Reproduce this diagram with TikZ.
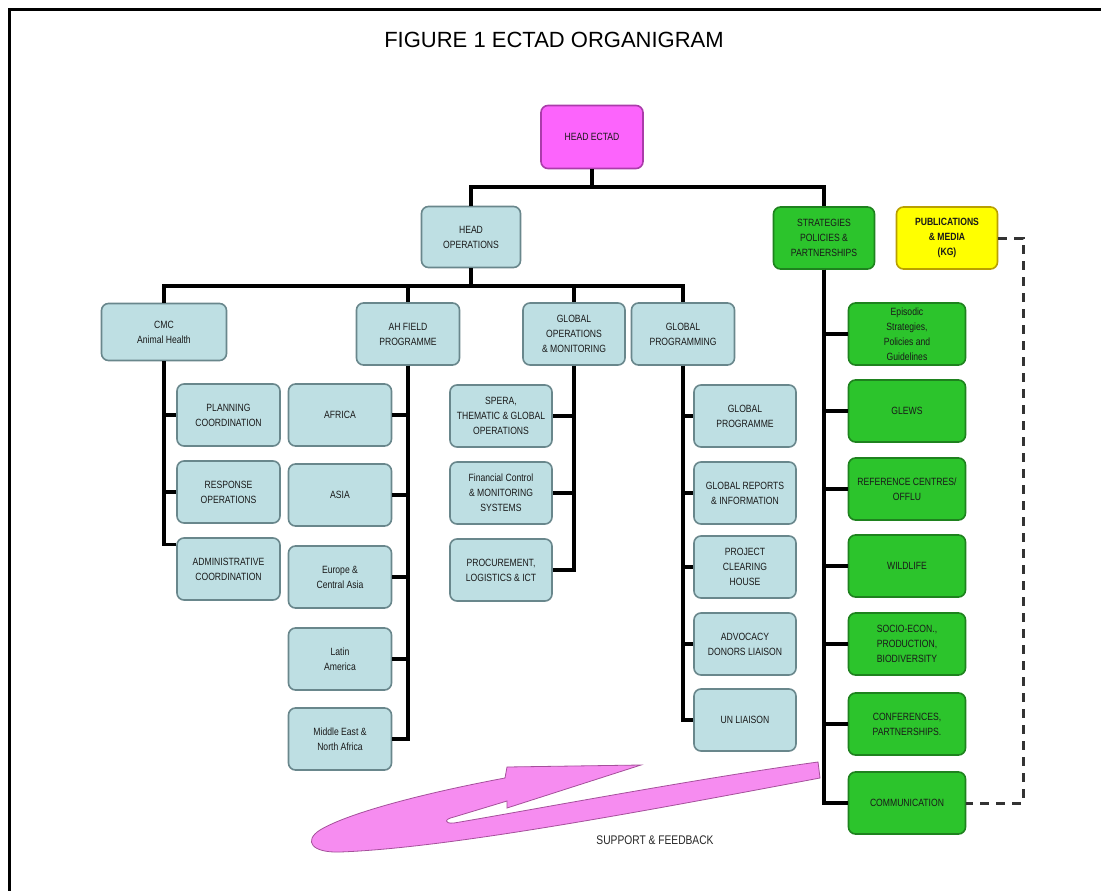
\documentclass[tikz,border=0pt]{standalone}
\usepackage{fontspec}
\setmainfont{Liberation Sans}
\newfontfamily\boxfont[FakeStretch=0.82]{Liberation Sans}
\usetikzlibrary{calc}
\definecolor{bluef}{RGB}{190,223,227}
\definecolor{blued}{RGB}{105,135,140}
\definecolor{greenf}{RGB}{44,196,44}
\definecolor{greend}{RGB}{30,130,30}
\definecolor{yellowf}{RGB}{255,255,0}
\definecolor{yellowd}{RGB}{185,160,0}
\definecolor{magf}{RGB}{252,100,252}
\definecolor{magd}{RGB}{170,60,170}
\definecolor{pinkf}{RGB}{246,140,240}
\definecolor{pinkd}{RGB}{165,80,155}
\tikzset{
  boxbase/.style={rounded corners=7, line width=1.6, minimum width=103, minimum height=62, inner sep=1pt, align=center, text=black!90, font=\boxfont\fontsize{10.5}{15}\selectfont},
  bluebox/.style={boxbase, draw=blued, fill=bluef},
  greenbox/.style={boxbase, draw=greend, fill=greenf, minimum width=117},
  conn/.style={line width=3.2, black},
  dashconn/.style={line width=3, black!80, dash pattern=on 9 off 7}
}
\begin{document}
\begin{tikzpicture}[x=1pt,y=-1pt]
\useasboundingbox (0,0) rectangle (1101,891);
\fill[white] (0,0) rectangle (1101,891);
\draw[line width=3] (1101,9.5) -- (9.5,9.5) -- (9.5,891);
\node[font=\fontsize{22}{24}\selectfont] (title) at (554,40) {FIGURE 1 ECTAD ORGANIGRAM};

% top level
\node[boxbase, draw=magd, fill=magf, minimum width=102, minimum height=63] (ectad) at (592,137) {HEAD ECTAD};
\node[bluebox, minimum width=99, minimum height=61] (hops) at (471,237) {HEAD\\OPERATIONS};
\node[boxbase, draw=greend, fill=greenf, minimum width=101] (strat) at (824,238) {STRATEGIES\\POLICIES \&\\PARTNERSHIPS};
\node[boxbase, draw=yellowd, fill=yellowf, minimum width=101, font=\boxfont\bfseries\fontsize{10.5}{15}\selectfont] (pub) at (947,238) {PUBLICATIONS\\\& MEDIA\\(KG)};

% second level
\node[bluebox, minimum width=125, minimum height=57] (cmc) at (164,332) {CMC\\Animal Health};
\node[bluebox] (ahf) at (408,334) {AH FIELD\\PROGRAMME};
\node[bluebox, minimum width=102] (gops) at (574,334) {GLOBAL\\OPERATIONS\\\& MONITORING};
\node[bluebox] (gprog) at (683,334) {GLOBAL\\PROGRAMMING};

% CMC children
\node[bluebox] (plan) at (228.5,415) {PLANNING\\COORDINATION};
\node[bluebox] (resp) at (228.5,492) {RESPONSE\\OPERATIONS};
\node[bluebox] (admin) at (228.5,569) {ADMINISTRATIVE\\COORDINATION};

% AH field children
\node[bluebox] (africa) at (340,415) {AFRICA};
\node[bluebox] (asia) at (340,495) {ASIA};
\node[bluebox] (europe) at (340,577) {Europe \&\\Central Asia};
\node[bluebox] (latin) at (340,659) {Latin\\America};
\node[bluebox] (mena) at (340,739) {Middle East \&\\North Africa};

% Global ops children
\node[bluebox, minimum width=102] (spera) at (501,416) {SPERA,\\THEMATIC \& GLOBAL\\OPERATIONS};
\node[bluebox, minimum width=102] (fin) at (501,493) {Financial Control\\\& MONITORING\\SYSTEMS};
\node[bluebox, minimum width=102] (proc) at (501,570) {PROCUREMENT,\\LOGISTICS \& ICT};

% Global programming children
\node[bluebox, minimum width=102] (gpme) at (745,416) {GLOBAL\\PROGRAMME};
\node[bluebox, minimum width=102] (grep) at (745,493) {GLOBAL REPORTS\\\& INFORMATION};
\node[bluebox, minimum width=102] (pch) at (745,567) {PROJECT\\CLEARING\\HOUSE};
\node[bluebox, minimum width=102] (adv) at (745,644) {ADVOCACY\\DONORS LIAISON};
\node[bluebox, minimum width=102] (unl) at (745,720) {UN LIAISON};

% Strategies children
\node[greenbox] (epi) at (907,334) {Episodic\\Strategies,\\Policies and\\Guidelines};
\node[greenbox] (glews) at (907,411) {GLEWS};
\node[greenbox] (ref) at (907,489) {REFERENCE CENTRES/\\OFFLU};
\node[greenbox] (wild) at (907,566) {WILDLIFE};
\node[greenbox] (socio) at (907,644) {SOCIO-ECON.,\\PRODUCTION,\\BIODIVERSITY};
\node[greenbox] (conf) at (907,724) {CONFERENCES,\\PARTNERSHIPS.};
\node[greenbox] (comm) at (907,803) {COMMUNICATION};

% connectors
\coordinate (b1) at (0,187);
\coordinate (b2) at (0,286);
\coordinate (dx) at (1023,0);
\draw[conn] (ectad.south) -- (ectad.south |- b1);
\draw[conn] (hops.north) -- (hops.north |- b1) -- (strat.north |- b1) -- (strat.north);
\draw[conn] (hops.south) -- (hops.south |- b2);
\draw[conn] (cmc.north) -- (cmc.north |- b2) -- (gprog.north |- b2) -- (gprog.north);
\draw[conn] (ahf.north) -- (ahf.north |- b2);
\draw[conn] (gops.north) -- (gops.north |- b2);

\draw[conn] (cmc.south) |- (plan.west);
\draw[conn] (cmc.south) |- (resp.west);
\draw[conn] (cmc.south) |- ($(admin.north west)+(0,7)$);

\foreach \c in {africa,asia,europe,latin,mena} \draw[conn] (ahf.south) |- (\c.east);
\foreach \c in {spera,fin,proc} \draw[conn] (gops.south) |- (\c.east);
\foreach \c in {gpme,grep,pch,adv,unl} \draw[conn] (gprog.south) |- (\c.west);
\foreach \c in {epi,glews,ref,wild,socio,conf,comm} \draw[conn] (strat.south) |- (\c.west);

\draw[dashconn] (pub.east) -- (pub.east -| dx) -- (comm.east -| dx) -- (comm.east);

% support & feedback arrow
\draw[fill=pinkf, draw=pinkd, line width=0.8]
  (818,762) .. controls (700,778) and (520,812) .. (454,823)
  .. controls (444,824) and (444,819) .. (454,817)
  -- (507,801) -- (507,808) -- (641,765) -- (507,767) -- (505,778)
  .. controls (430,792) and (350,812) .. (320,830)
  .. controls (303,841) and (312,853) .. (340,852)
  .. controls (450,848) and (650,810) .. (820,778) -- cycle;
\node[font=\boxfont\fontsize{12.5}{14}\selectfont, text=black!85] (sf) at (655,840) {SUPPORT \& FEEDBACK};
\end{tikzpicture}
\end{document}
